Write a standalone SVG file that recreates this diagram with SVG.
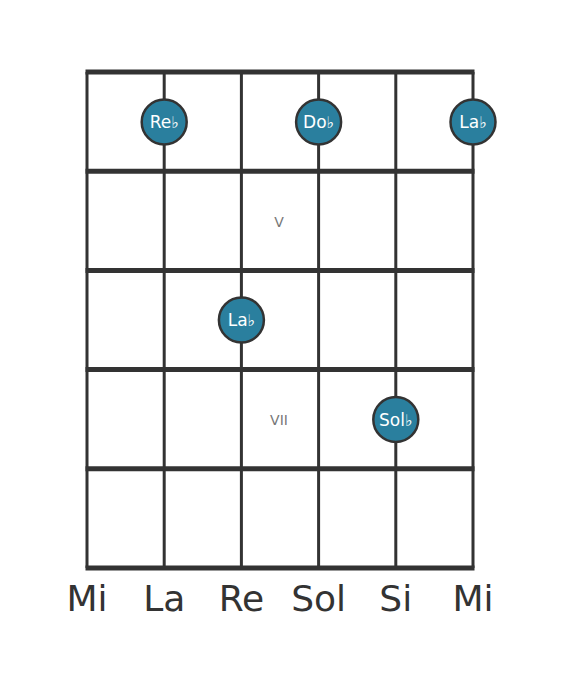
<svg xmlns="http://www.w3.org/2000/svg" width="568" height="682" viewBox="0 0 568 682">
<style>
.s{stroke:#333;stroke-width:3;fill:none}
.f{stroke:#333;stroke-width:5;fill:none}
.n circle{fill:#2a7f9e;stroke:#333;stroke-width:2.5}
.n text{fill:#fff;font-family:"DejaVu Sans",sans-serif;font-size:17px;text-anchor:middle;dominant-baseline:central}
.fl{font-size:16px}
.p{fill:#777;font-family:"DejaVu Sans",sans-serif;font-size:14px;text-anchor:middle;dominant-baseline:central}
.l{fill:#333;font-family:"DejaVu Sans",sans-serif;font-size:36px;text-anchor:middle}
</style>
<rect width="568" height="682" fill="#fff"/>
<g id="grid">
<line class="s" x1="87" y1="72" x2="87" y2="568"/>
<line class="s" x1="164.2" y1="72" x2="164.2" y2="568"/>
<line class="s" x1="241.4" y1="72" x2="241.4" y2="568"/>
<line class="s" x1="318.6" y1="72" x2="318.6" y2="568"/>
<line class="s" x1="395.8" y1="72" x2="395.8" y2="568"/>
<line class="s" x1="473" y1="72" x2="473" y2="568"/>
<line class="f" x1="85.5" y1="72" x2="474.5" y2="72"/>
<line class="f" x1="85.5" y1="171.2" x2="474.5" y2="171.2"/>
<line class="f" x1="85.5" y1="270.4" x2="474.5" y2="270.4"/>
<line class="f" x1="85.5" y1="369.6" x2="474.5" y2="369.6"/>
<line class="f" x1="85.5" y1="468.8" x2="474.5" y2="468.8"/>
<line class="f" x1="85.5" y1="568" x2="474.5" y2="568"/>
</g>
<g id="positions">
<text class="p" x="279" y="222">V</text>
<text class="p" x="279" y="420">VII</text>
</g>
<g id="n1" class="n"><circle cx="164.2" cy="122" r="22.5"/><text x="164.2" y="122">Re<tspan class="fl">♭</tspan></text></g>
<g id="n2" class="n"><circle cx="318.6" cy="122" r="22.5"/><text x="318.6" y="122">Do<tspan class="fl">♭</tspan></text></g>
<g id="n3" class="n"><circle cx="473" cy="122" r="22.5"/><text x="473" y="122">La<tspan class="fl">♭</tspan></text></g>
<g id="n4" class="n"><circle cx="241.4" cy="320" r="22.5"/><text x="241.4" y="320">La<tspan class="fl">♭</tspan></text></g>
<g id="n5" class="n"><circle cx="395.8" cy="419.5" r="22.5"/><text x="395.8" y="419.5">Sol<tspan class="fl">♭</tspan></text></g>
<g id="labels">
<text class="l" x="87" y="611">Mi</text>
<text class="l" x="164.2" y="611">La</text>
<text class="l" x="241.4" y="611">Re</text>
<text class="l" x="318.6" y="611">Sol</text>
<text class="l" x="395.8" y="611">Si</text>
<text class="l" x="473" y="611">Mi</text>
</g>
</svg>
